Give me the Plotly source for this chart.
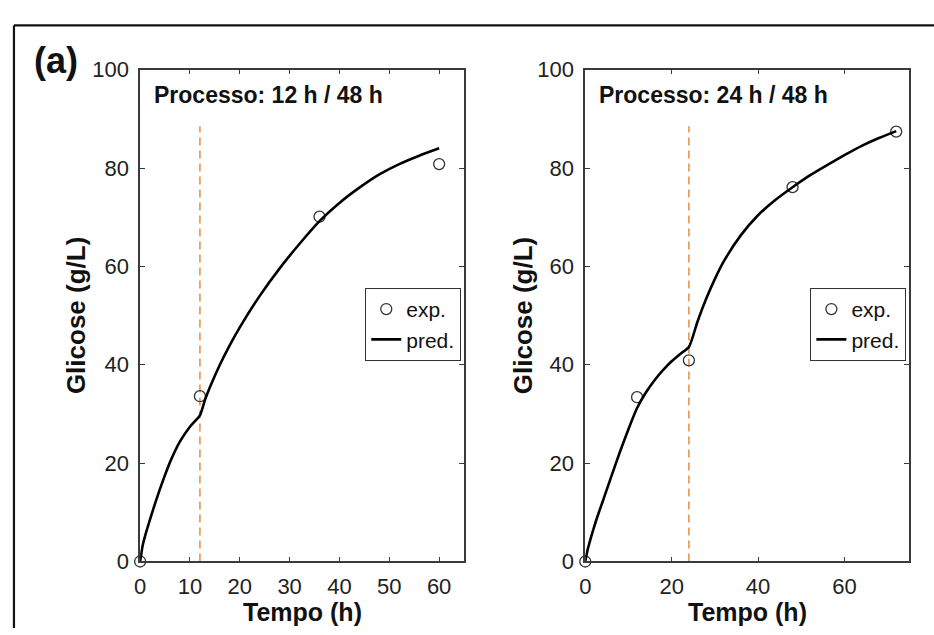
import plotly.graph_objects as go

# ---------------- data ----------------
# Panel 1: Processo 12 h / 48 h
exp_t_1 = [0, 12, 36, 60]
exp_g_1 = [0, 33.6, 70.1, 80.8]
pred_t_1 = [0, 0.5, 1, 2, 3, 4, 5, 6, 8, 10, 12, 13, 14, 16, 18, 20, 24, 28, 32, 36, 40, 44, 48, 52, 56, 60]
pred_g_1 = [0, 3.2, 5.2, 8.6, 11.8, 14.8, 17.6, 20.2, 24.4, 27.4, 29.7, 32.8, 35.4, 40, 44, 47.6, 54, 59.6, 64.6, 69.2, 72.9, 76, 78.7, 80.8, 82.5, 84]
switch_1 = [12, 12]
switch_g_1 = [0, 88.5]

# Panel 2: Processo 24 h / 48 h
exp_t_2 = [0, 12, 24, 48, 72]
exp_g_2 = [0, 33.4, 40.9, 76.1, 87.4]
pred_t_2 = [0, 0.5, 1, 2, 3, 4, 6, 8, 10, 12, 14, 16, 18, 20, 22, 24, 26, 28, 30, 32, 36, 40, 44, 48, 52, 56, 60, 64, 68, 72]
pred_g_2 = [0, 2.2, 3.9, 6.9, 9.6, 12.1, 17.2, 22.2, 26.9, 31.2, 34.3, 36.8, 38.9, 40.7, 42.2, 43.6, 48.8, 53.4, 57.4, 60.9, 66.3, 70.4, 73.5, 76.1, 78.5, 80.6, 82.6, 84.5, 86.1, 87.5]
switch_2 = [24, 24]
switch_g_2 = [0, 88.5]

titles = ["Processo: 12 h / 48 h", "Processo: 24 h / 48 h"]
x_ticks_1 = [0, 10, 20, 30, 40, 50, 60]
x_ticks_2 = [0, 20, 40, 60]
y_ticks = [0, 20, 40, 60, 80, 100]
x_label = "Tempo (h)"
y_label = "Glicose (g/L)"
legend_labels = ["exp.", "pred."]

# ---------------- figure ----------------
W, H = 934, 635
FONT = "Liberation Sans, Arial, sans-serif"
AX = "#3a3a3a"
ORANGE = "#E8944A"

def px(x):
    return x / W

def py(y):
    return 1 - y / H

fig = go.Figure()

def add_panel(xa, ya, leg, t_exp, g_exp, t_pred, g_pred, sw_t, sw_g):
    fig.add_trace(go.Scatter(x=sw_t, y=sw_g, mode="lines", xaxis=xa, yaxis=ya,
                             line=dict(color=ORANGE, width=1.6, dash="8px,5px"),
                             showlegend=False, hoverinfo="skip"))
    fig.add_trace(go.Scatter(x=t_exp, y=g_exp, mode="markers", name=legend_labels[0],
                             xaxis=xa, yaxis=ya, legend=leg, cliponaxis=False,
                             marker=dict(symbol="circle-open", size=11, color="#333",
                                         line=dict(width=1.3, color="#333"))))
    fig.add_trace(go.Scatter(x=t_pred, y=g_pred, mode="lines", name=legend_labels[1],
                             xaxis=xa, yaxis=ya, legend=leg, cliponaxis=False,
                             line=dict(color="black", width=2.6, shape="spline", smoothing=0.6)))

add_panel("x", "y", "legend", exp_t_1, exp_g_1, pred_t_1, pred_g_1, switch_1, switch_g_1)
add_panel("x2", "y2", "legend2", exp_t_2, exp_g_2, pred_t_2, pred_g_2, switch_2, switch_g_2)

axis_common = dict(showgrid=False, zeroline=False, showline=True, linecolor=AX, linewidth=1.6,
                   mirror="ticks", ticks="inside", ticklen=5, tickwidth=1.3, tickcolor=AX,
                   tickfont=dict(family=FONT, size=22, color="#222"))

y_dom = [py(572), py(60)]
legend_common = dict(xanchor="right", yanchor="top", bgcolor="white", bordercolor="#333",
                     borderwidth=1.2, font=dict(family=FONT, size=21, color="#111"),
                     itemwidth=30, tracegroupgap=0)
fig.update_layout(
    width=W, height=H,
    margin=dict(l=0, r=0, t=0, b=0),
    paper_bgcolor="white", plot_bgcolor="white",
    font=dict(family=FONT, color="#111"),
    xaxis=dict(domain=[px(135), px(461)], range=[0, 65], tickvals=x_ticks_1, anchor="y",
               ticklabelstandoff=4, **axis_common),
    yaxis=dict(domain=y_dom, range=[0, 100], tickvals=y_ticks, anchor="x",
               ticklabelstandoff=5, **axis_common),
    xaxis2=dict(domain=[px(583), px(909)], range=[0, 75], tickvals=x_ticks_2, anchor="y2",
                ticklabelstandoff=4, **axis_common),
    yaxis2=dict(domain=y_dom, range=[0, 100], tickvals=y_ticks, anchor="x2",
                ticklabelstandoff=5, **axis_common),
    legend=dict(x=px(458), y=py(287), **legend_common),
    legend2=dict(x=px(906), y=py(287), **legend_common),
    showlegend=True,
)

annotations = [
    dict(text="<b>(a)</b>", x=px(26), y=py(50), xanchor="left", yanchor="middle",
         font=dict(size=36, family=FONT, color="#111")),
    dict(text="<b>" + titles[0] + "</b>", x=px(147), y=py(86), xanchor="left", yanchor="middle",
         font=dict(size=23, family=FONT, color="#111")),
    dict(text="<b>" + titles[1] + "</b>", x=px(595), y=py(86), xanchor="left", yanchor="middle",
         font=dict(size=23, family=FONT, color="#111")),
    dict(text="<b>" + x_label + "</b>", x=px(298), y=py(625), xanchor="center", yanchor="middle",
         font=dict(size=25, family=FONT, color="#111")),
    dict(text="<b>" + x_label + "</b>", x=px(746), y=py(625), xanchor="center", yanchor="middle",
         font=dict(size=25, family=FONT, color="#111")),
    dict(text="<b>" + y_label + "</b>", x=px(70), y=py(316), xanchor="center", yanchor="middle",
         textangle=-90, font=dict(size=26, family=FONT, color="#111")),
    dict(text="<b>" + y_label + "</b>", x=px(520), y=py(316), xanchor="center", yanchor="middle",
         textangle=-90, font=dict(size=26, family=FONT, color="#111")),
]
for a in annotations:
    a.update(xref="paper", yref="paper", showarrow=False)
fig.update_layout(annotations=annotations)

fig.update_layout(shapes=[
    dict(type="line", xref="paper", yref="paper", x0=px(8), x1=1.01, y0=py(14), y1=py(14),
         line=dict(color="#111", width=2.2)),
    dict(type="line", xref="paper", yref="paper", x0=px(8), x1=px(8), y0=-0.01, y1=py(14),
         line=dict(color="#111", width=2.2)),
])

fig.write_html("out.html")
